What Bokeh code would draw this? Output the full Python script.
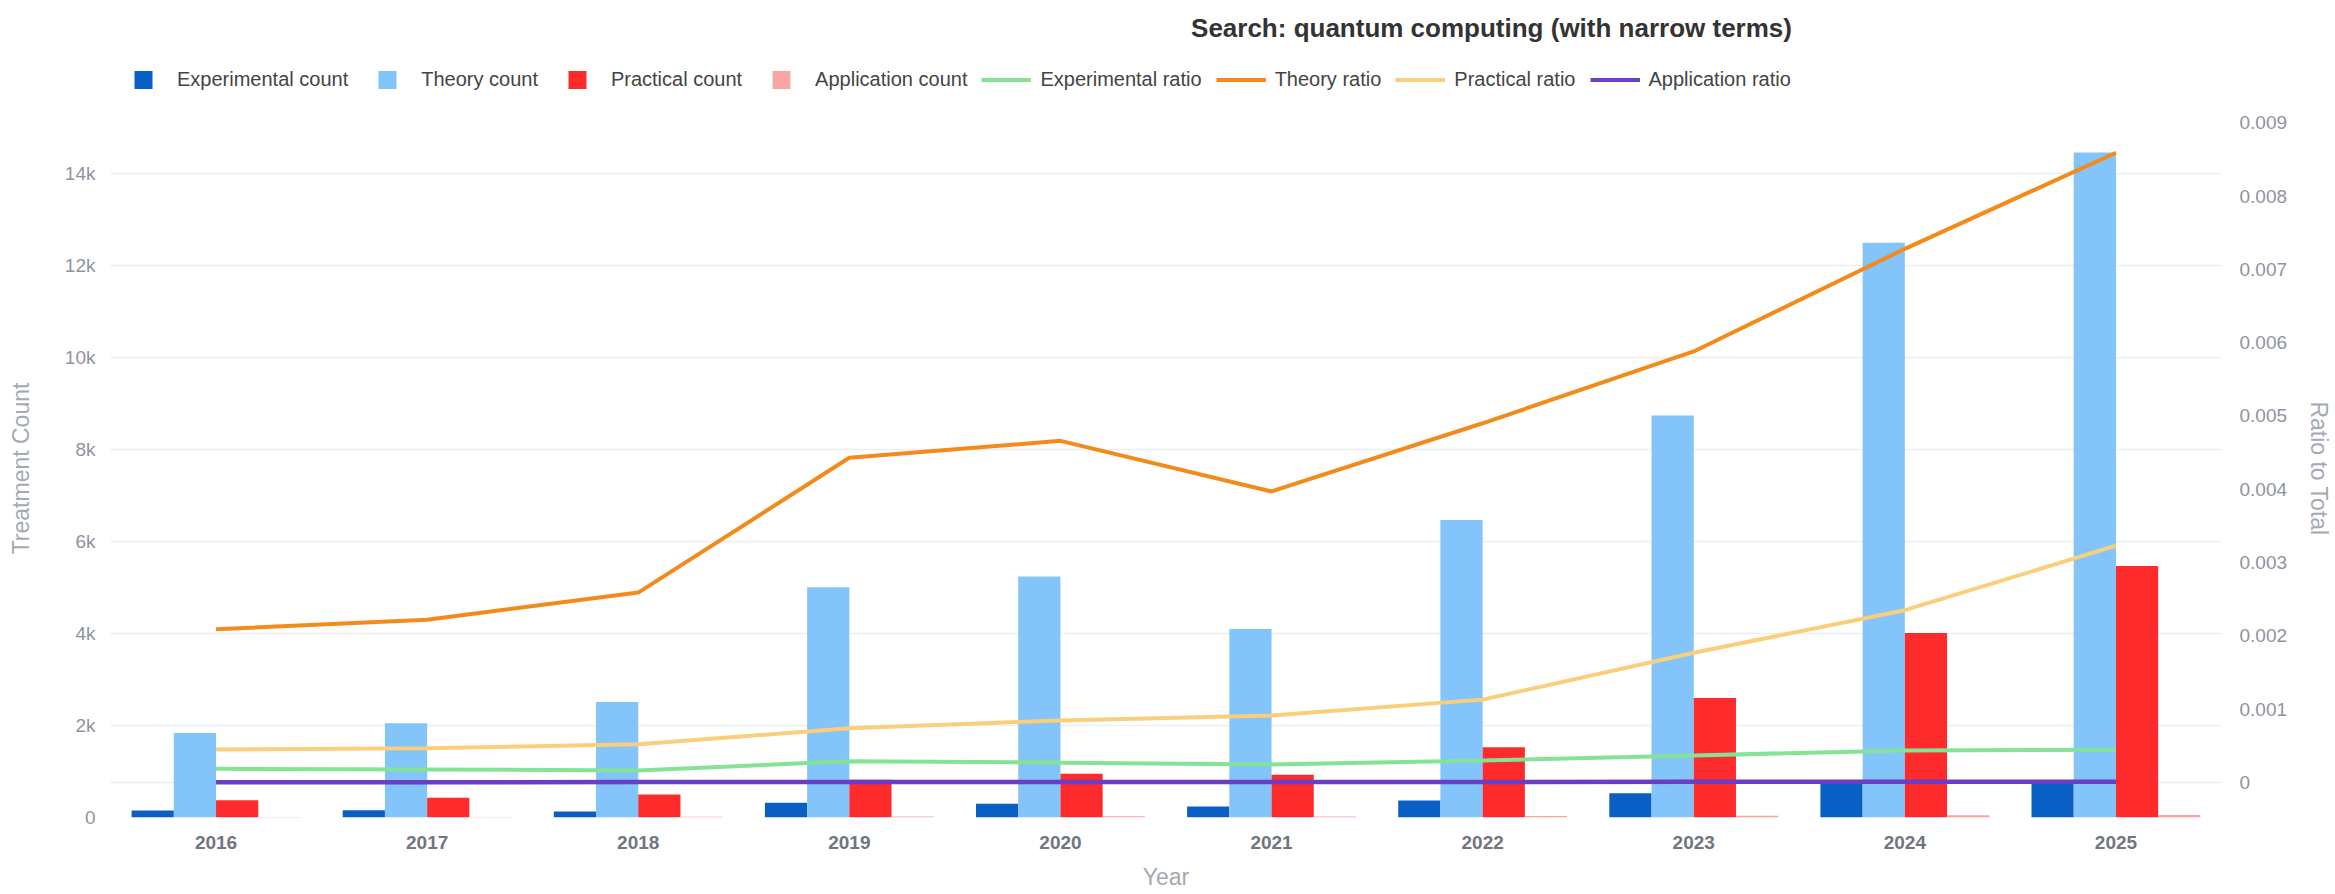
import numpy as np
from bokeh.plotting import figure
from bokeh.layouts import column
from bokeh.models import (FactorRange, Range1d, LinearAxis, FixedTicker, NumeralTickFormatter,
                          CustomJSTickFormatter, Legend, LegendItem, Span, Label, ColumnDataSource)
from bokeh.transform import dodge
from bokeh.embed import file_html
from bokeh.resources import INLINE

# ---------------- data ----------------
years = ["2016", "2017", "2018", "2019", "2020", "2021", "2022", "2023", "2024", "2025"]

experimental_count = [150, 160, 130, 320, 300, 240, 370, 530, 790, 780]
theory_count = [1835, 2050, 2510, 5010, 5240, 4100, 6470, 8740, 12500, 14460]
practical_count = [375, 430, 500, 820, 950, 930, 1530, 2600, 4010, 5470]
application_count = [10, 12, 14, 20, 25, 22, 30, 38, 50, 55]

experimental_ratio = [0.000187, 0.000177, 0.000164, 0.00029, 0.00027, 0.000246, 0.0003, 0.000369, 0.000437, 0.000445]
theory_ratio = [0.00209, 0.00222, 0.00259, 0.00443, 0.00466, 0.00397, 0.00490, 0.00588, 0.00728, 0.00859]
practical_ratio = [0.00045, 0.000468, 0.00052, 0.00074, 0.000846, 0.000915, 0.00113, 0.00177, 0.00235, 0.00323]
application_ratio = [0.000004, 0.000004, 0.000005, 0.000006, 0.000006, 0.000006, 0.000007, 0.000008, 0.000009, 0.00001]

count_ticks = [0, 2000, 4000, 6000, 8000, 10000, 12000, 14000]
ratio_ticks = [0, 0.001, 0.002, 0.003, 0.004, 0.005, 0.006, 0.007, 0.008, 0.009]

series_labels = ["Experimental count", "Theory count", "Practical count", "Application count",
                 "Experimental ratio", "Theory ratio", "Practical ratio", "Application ratio"]

title_text = "Search: quantum computing (with narrow terms)"

FONT = "Liberation Sans"
C_EXP = "#0a5fc4"
C_THE = "#83c4fa"
C_PRA = "#fd2b2b"
C_APP = "#f8a5a5"
C_EXP_R = "#84e396"
C_THE_R = "#f28b1b"
C_PRA_R = "#f9cf7b"
C_APP_R = "#6a3dc4"
bar_colors = [C_EXP, C_THE, C_PRA, C_APP]
line_colors = [C_EXP_R, C_THE_R, C_PRA_R, C_APP_R]

# ---------------- header (title + legend) ----------------
TOP_H = 104
top = figure(width=2335, height=TOP_H, title=None, output_backend="svg", toolbar_location=None,
             x_range=Range1d(0, 1), y_range=Range1d(0, 1),
             min_border=0, min_border_left=0, min_border_right=0, min_border_top=0, min_border_bottom=0)
top.axis.visible = False
top.grid.visible = False
top.outline_line_color = None
top.background_fill_color = "white"
top.border_fill_color = "white"

legend_items = []
for lab, col in zip(series_labels[:4], bar_colors):
    r = top.scatter(x=[0.5], y=np.array([np.nan]), marker="square", size=18,
                    fill_color=col, line_color=None)
    legend_items.append(LegendItem(label=lab, renderers=[r]))
for lab, col in zip(series_labels[4:], line_colors):
    r = top.line(x=[0.5, 0.6], y=np.array([np.nan, np.nan]), line_color=col, line_width=4)
    legend_items.append(LegendItem(label=lab, renderers=[r]))

# the header frame is aligned with the main chart frame (starts 110px from the left)
legend = Legend(items=legend_items, orientation="horizontal", location=(8, 2),
                glyph_width=50, glyph_height=45, label_standoff=9, spacing=14,
                padding=0, margin=0, border_line_color=None, background_fill_alpha=0,
                label_text_font=FONT, label_text_font_size="20px", label_text_color="#444444")
top.add_layout(legend)

top.add_layout(Label(x=1381, y=TOP_H - 27, x_units="screen", y_units="screen", text=title_text,
                     text_align="center", text_baseline="middle", text_font=FONT,
                     text_font_size="26px", text_font_style="bold", text_color="#333333"))

# ---------------- main chart ----------------
src = ColumnDataSource(dict(
    year=years,
    exp=experimental_count, the=theory_count, pra=practical_count, app=application_count,
    exp_r=experimental_ratio, the_r=theory_ratio, pra_r=practical_ratio, app_r=application_ratio,
))

p = figure(width=2335, height=894 - TOP_H, title=None,
           x_range=FactorRange(factors=years, range_padding=0),
           y_range=Range1d(0, 15180),
           output_backend="svg", toolbar_location=None,
           min_border_left=110, min_border_right=108, min_border_top=119 - TOP_H, min_border_bottom=77)
p.extra_y_ranges = {"ratio": Range1d(-0.000478, 0.009044)}
p.outline_line_color = None
p.background_fill_color = "white"
p.border_fill_color = "white"

# grid
p.xgrid.visible = False
p.ygrid.ticker = FixedTicker(ticks=count_ticks)
p.ygrid.grid_line_color = "#eceef2"
p.ygrid.grid_line_width = 1.5
p.add_layout(Span(location=0, dimension="width", y_range_name="ratio", level="underlay",
                  line_color="#eceef2", line_width=1.5))

# bars
w = 0.2
for col, field, off in zip(bar_colors, ["exp", "the", "pra", "app"], [-0.3, -0.1, 0.1, 0.3]):
    p.vbar(x=dodge("year", off, range=p.x_range), top=field, width=w, source=src,
           fill_color=col, line_color=None)

# ratio lines
for col, field in zip(line_colors, ["exp_r", "the_r", "pra_r", "app_r"]):
    p.line(x="year", y=field, source=src, y_range_name="ratio", line_color=col,
           line_width=4.5 if field == "app_r" else 4)

def style_axis(ax):
    ax.axis_line_color = None
    ax.major_tick_line_color = None
    ax.minor_tick_line_color = None
    ax.major_tick_out = 0
    ax.major_tick_in = 0
    ax.minor_tick_out = 0
    ax.minor_tick_in = 0
    ax.major_label_text_font = FONT
    ax.major_label_text_font_size = "19px"
    ax.major_label_text_color = "#8f94a0"
    ax.axis_label_text_font = FONT
    ax.axis_label_text_font_size = "23px"
    ax.axis_label_text_font_style = "normal"
    ax.axis_label_text_color = "#a4a9b4"

# x axis
xa = p.xaxis[0]
style_axis(xa)
xa.axis_label = "Year"
xa.major_label_text_font_style = "bold"
xa.major_label_text_color = "#70757f"
xa.major_label_standoff = 18
xa.axis_label_standoff = 12

# left axis
ya = p.yaxis[0]
style_axis(ya)
ya.ticker = FixedTicker(ticks=count_ticks)
ya.formatter = NumeralTickFormatter(format="0a")
ya.axis_label = "Treatment Count"
ya.major_label_standoff = 15
ya.axis_label_standoff = 28

# right axis
yr = LinearAxis(y_range_name="ratio", ticker=FixedTicker(ticks=ratio_ticks),
                formatter=CustomJSTickFormatter(code="return tick === 0 ? '0' : tick.toFixed(3);"),
                axis_label="Ratio to Total")
style_axis(yr)
yr.major_label_standoff = 18
yr.axis_label_standoff = 16
p.add_layout(yr, "right")

layout = column(top, p, spacing=0)
open("out.html", "w").write(file_html(layout, INLINE))
